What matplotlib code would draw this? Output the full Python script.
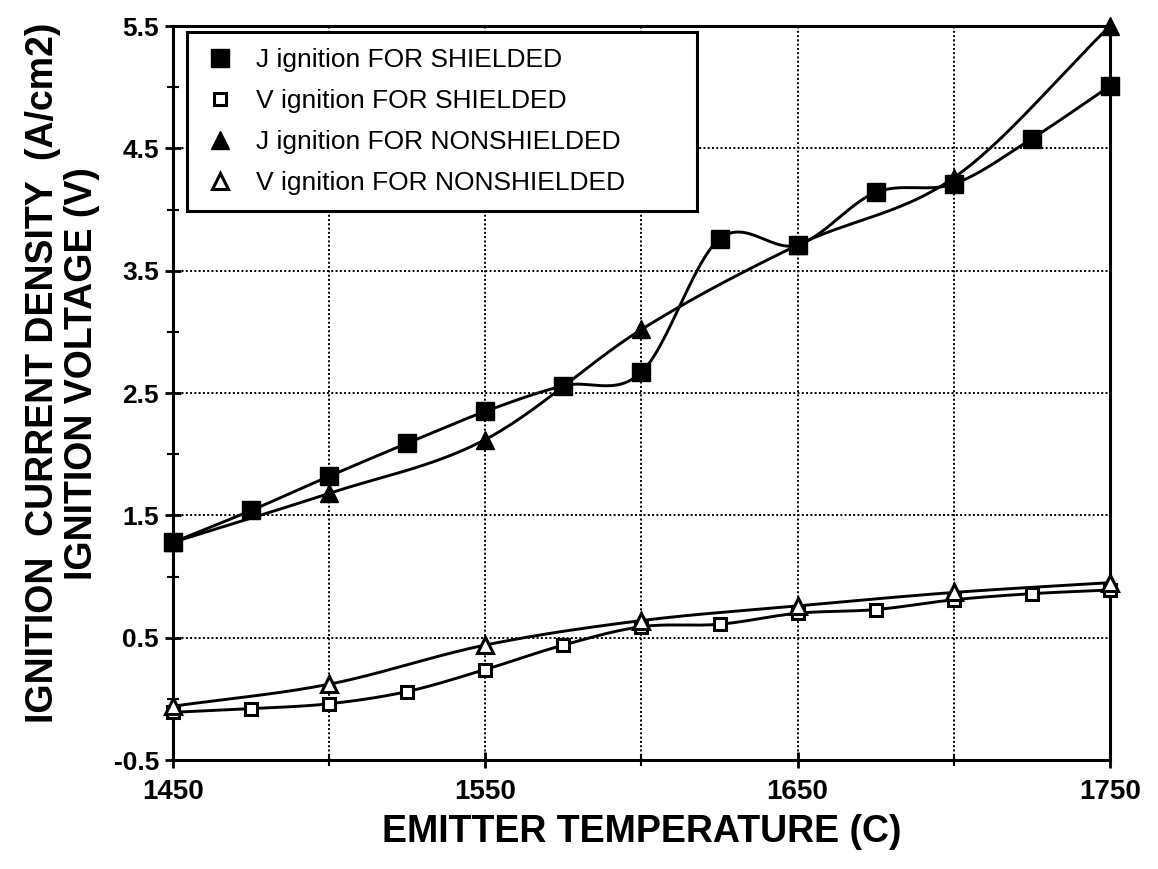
import numpy as np
import matplotlib
matplotlib.use("Agg")
import matplotlib.pyplot as plt
from matplotlib.ticker import FixedLocator, NullFormatter

plt.rcParams['font.family'] = ['Liberation Sans', 'DejaVu Sans']

# temperatures (C)
temp_25 = [1450, 1475, 1500, 1525, 1550, 1575, 1600, 1625, 1650, 1675, 1700, 1725, 1750]
temp_50 = [1450, 1500, 1550, 1600, 1650, 1700, 1750]

# ignition current density (A/cm2) and ignition voltage (V)
j_shielded = [1.28, 1.54, 1.82, 2.09, 2.35, 2.56, 2.67, 3.76, 3.71, 4.14, 4.21, 4.58, 5.01]
v_shielded = [-0.11, -0.08, -0.04, 0.06, 0.24, 0.44, 0.59, 0.61, 0.70, 0.73, 0.81, 0.86, 0.89]
j_nonshielded = [1.28, 1.68, 2.12, 3.02, 3.71, 4.26, 5.5]
v_nonshielded = [-0.06, 0.12, 0.44, 0.64, 0.76, 0.87, 0.95]

labels = ["J ignition FOR SHIELDED", "V ignition FOR SHIELDED",
          "J ignition FOR NONSHIELDED", "V ignition FOR NONSHIELDED"]


def smooth(x, y, n=30):
    # cubic hermite through the points, catmull-rom style tangents
    x = np.asarray(x, float)
    y = np.asarray(y, float)
    m = np.empty_like(y)
    m[1:-1] = (y[2:] - y[:-2]) / (x[2:] - x[:-2])
    m[0] = (y[1] - y[0]) / (x[1] - x[0])
    m[-1] = (y[-1] - y[-2]) / (x[-1] - x[-2])
    xs, ys = [], []
    for i in range(len(x) - 1):
        h = x[i + 1] - x[i]
        t = np.linspace(0, 1, n)
        h00 = 2 * t**3 - 3 * t**2 + 1
        h10 = t**3 - 2 * t**2 + t
        h01 = -2 * t**3 + 3 * t**2
        h11 = t**3 - t**2
        xs.append(x[i] + t * h)
        ys.append(h00 * y[i] + h10 * h * m[i] + h01 * y[i + 1] + h11 * h * m[i + 1])
    return np.concatenate(xs), np.concatenate(ys)


fig = plt.figure(figsize=(11.58, 8.69), dpi=100)
ax = fig.add_axes([0.1494, 0.1254, 0.8091, 0.8446])

series = [
    (temp_25, j_shielded, dict(marker="s", markersize=13, markerfacecolor="black")),
    (temp_25, v_shielded, dict(marker="s", markersize=8, markerfacecolor="white", markeredgewidth=2.2)),
    (temp_50, j_nonshielded, dict(marker="^", markersize=13, markerfacecolor="black")),
    (temp_50, v_nonshielded, dict(marker="^", markersize=11, markerfacecolor="white", markeredgewidth=2.2)),
]

handles = []
for (x, y, style), lab in zip(series, labels):
    sx, sy = smooth(x, y)
    ax.plot(sx, sy, color="black", linewidth=2.1, clip_on=False, zorder=3)
    h, = ax.plot(x, y, linestyle="none", color="black", markeredgecolor="black",
                 clip_on=False, zorder=4, label=lab, **style)
    handles.append(h)

ax.set_xlim(1450, 1750)
ax.set_ylim(-0.5, 5.5)

ax.xaxis.set_major_locator(FixedLocator([1450, 1550, 1650, 1750]))
ax.xaxis.set_minor_locator(FixedLocator([1500, 1600, 1700]))
ax.yaxis.set_major_locator(FixedLocator([-0.5, 0.5, 1.5, 2.5, 3.5, 4.5, 5.5]))
ax.yaxis.set_minor_locator(FixedLocator([0, 1, 2, 3, 4, 5]))
ax.xaxis.set_minor_formatter(NullFormatter())
ax.set_yticklabels(["-0.5", "0.5", "1.5", "2.5", "3.5", "4.5", "5.5"])

ax.tick_params(axis="both", which="major", direction="inout", length=12, width=2)
ax.tick_params(axis="x", which="major", labelsize=20, pad=8)
ax.tick_params(axis="y", which="major", labelsize=19, pad=4)
ax.tick_params(axis="both", which="minor", direction="inout", length=8, width=1.5)
for t in ax.get_xticklabels() + ax.get_yticklabels():
    t.set_fontweight("bold")

ax.grid(True, which="major", color="black", linestyle=(0, (1, 1.2)), linewidth=1.4)
ax.xaxis.grid(True, which="minor", color="black", linestyle=(0, (1, 1.2)), linewidth=1.4)
for s in ax.spines.values():
    s.set_linewidth(2.2)

ax.set_xlabel("EMITTER TEMPERATURE (C)", fontsize=27, fontweight="bold", labelpad=6)
ax.set_ylabel("IGNITION  CURRENT DENSITY  (A/cm2)\nIGNITION VOLTAGE (V)", fontsize=27,
              fontweight="bold", linespacing=1.1)
ax.yaxis.set_label_coords(-0.078, 0.527)

leg = ax.legend(handles=handles, loc="upper left", bbox_to_anchor=(0.015, 0.992, 0.544, 0.0),
                mode="expand", borderaxespad=0, fontsize=19, handletextpad=0.7,
                labelspacing=0.65, fancybox=False, framealpha=1, edgecolor="black",
                borderpad=0.6, handlelength=1.3)
leg.get_frame().set_linewidth(2.2)
leg.set_zorder(5)

fig.savefig("out.png", dpi=100)
